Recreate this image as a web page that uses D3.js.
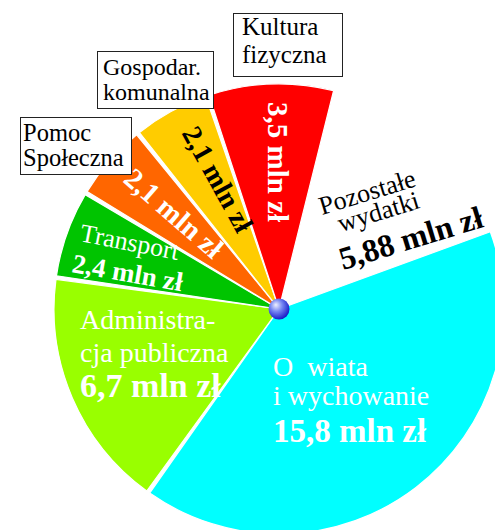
<!DOCTYPE html>
<html><head><meta charset="utf-8">
<script src="https://cdn.jsdelivr.net/npm/d3@7/dist/d3.min.js"></script>
<style>
html,body{margin:0;padding:0;background:#fff;}
svg{display:block;font-family:"Liberation Serif","Times New Roman",serif;}
</style>
</head><body>
<svg id="chart" width="495" height="530"></svg>
<script>
// ---- data ----
const categories = ["Pozostałe wydatki", "Oświata i wychowanie", "Administracja publiczna", "Transport", "Pomoc Społeczna", "Gospodar. komunalna", "Kultura fizyczna"];
const values = [5.88, 15.8, 6.7, 2.4, 2.1, 2.1, 3.5];
const nameLines = [["Pozostałe", "wydatki"], ["O  wiata", "i wychowanie"], ["Administra-", "cja publiczna"], ["Transport"], ["Pomoc", "Społeczna"], ["Gospodar.", "komunalna"], ["Kultura", "fizyczna"]];
const unit = "mln zł";
const sliceColors = ["#ffffff", "#00ffff", "#99ff00", "#00c400", "#ff6600", "#ffcc00", "#ff0000"];

// ---- layout ----
const cx = 279, cy = 309, R = 225;
const fmt = v => d3.format(".2~f")(v).replace(".", ",") + " " + unit;
const svg = d3.select("#chart");

const a0 = 14.5 * Math.PI / 180;
const pie = d3.pie().sort(null).value(d => d).startAngle(a0).endAngle(a0 + 2 * Math.PI).padAngle(0.016);
const arcs = pie(values);
const arc = d3.arc().innerRadius(0).outerRadius(R);

const g = svg.append("g").attr("transform", `translate(${cx},${cy})`);
g.selectAll("path.slice").data(arcs).join("path")
  .attr("class", "slice")
  .attr("d", arc)
  .attr("fill", (d, i) => sliceColors[i])
  .attr("stroke", "#fff").attr("stroke-width", 1.2);

// label placement (style/position only)
const labelCfg = [
  { fill: "#000", name: { x: 322, y: 215, rot: -17, size: 26, dxs: [0, 13], dys: [0, 22] }, val: { x: 343, y: 270, rot: -17, size: 32, anchor: "start" } },
  { fill: "#fff", name: { x: 273, y: 376, rot: 0, size: 28, dxs: [0, 0], dys: [0, 29] }, val: { x: 273, y: 442, rot: 0, size: 33, anchor: "start" } },
  { fill: "#fff", name: { x: 80, y: 329, rot: 0, size: 28, dxs: [0, 0], dys: [0, 33] }, val: { x: 80, y: 397, rot: 0, size: 34, anchor: "start" } },
  { fill: "#fff", name: { x: 79, y: 241, rot: 11, size: 26, dxs: [0], dys: [0] }, val: { x: 71, y: 272, rot: 10, size: 27, anchor: "start" } },
  { fill: "#fff", box: { x: 20, y: 117, w: 111, h: 57, tx: 23, ty: [141, 166], size: 24.5 }, val: { x: 174, y: 213, rot: 41, size: 29, anchor: "middle" } },
  { fill: "#000", box: { x: 97, y: 51, w: 116, h: 57, tx: 103, ty: [75, 100], size: 24 }, val: { x: 218, y: 179, rot: 61, size: 28, anchor: "middle" } },
  { fill: "#fff", box: { x: 233, y: 13, w: 109, h: 63, tx: 242, ty: [35, 63], size: 25 }, val: { x: 278, y: 162, rot: 90, size: 29, anchor: "middle" } }
];

const labels = svg.append("g");
values.forEach((v, i) => {
  const c = labelCfg[i];
  if (c.name) {
    const t = labels.append("g").attr("transform", `translate(${c.name.x},${c.name.y}) rotate(${c.name.rot})`);
    nameLines[i].forEach((line, j) => {
      t.append("text").attr("x", c.name.dxs[j]).attr("y", c.name.dys[j])
        .attr("font-size", c.name.size).attr("fill", c.fill)
        .style("white-space", "pre").attr("xml:space", "preserve")
        .text(line);
    });
  }
  labels.append("text")
    .attr("transform", `translate(${c.val.x},${c.val.y}) rotate(${c.val.rot})`)
    .attr("font-size", c.val.size).attr("font-weight", "bold").attr("fill", c.fill)
    .attr("text-anchor", c.val.anchor)
    .attr("dy", c.val.anchor === "middle" ? "0.35em" : 0)
    .text(fmt(v));
  if (c.box) {
    const b = labels.append("g");
    b.append("rect").attr("x", c.box.x + 0.5).attr("y", c.box.y + 0.5).attr("width", c.box.w).attr("height", c.box.h)
      .attr("fill", "#fff").attr("stroke", "#222").attr("stroke-width", 1);
    nameLines[i].forEach((line, j) => {
      b.append("text").attr("x", c.box.tx).attr("y", c.box.ty[j]).attr("font-size", c.box.size).attr("fill", "#000").text(line);
    });
  }
});

// center ball
const defs = svg.append("defs");
const grad = defs.append("radialGradient").attr("id", "ball").attr("cx", "40%").attr("cy", "38%").attr("r", "65%").attr("fx", "35%").attr("fy", "30%");
grad.append("stop").attr("offset", "0%").attr("stop-color", "#eef0ff");
grad.append("stop").attr("offset", "45%").attr("stop-color", "#7585f2");
grad.append("stop").attr("offset", "100%").attr("stop-color", "#1515c5");
svg.append("circle").attr("cx", cx).attr("cy", cy).attr("r", 10.5).attr("fill", "url(#ball)");
</script>
</body></html>
